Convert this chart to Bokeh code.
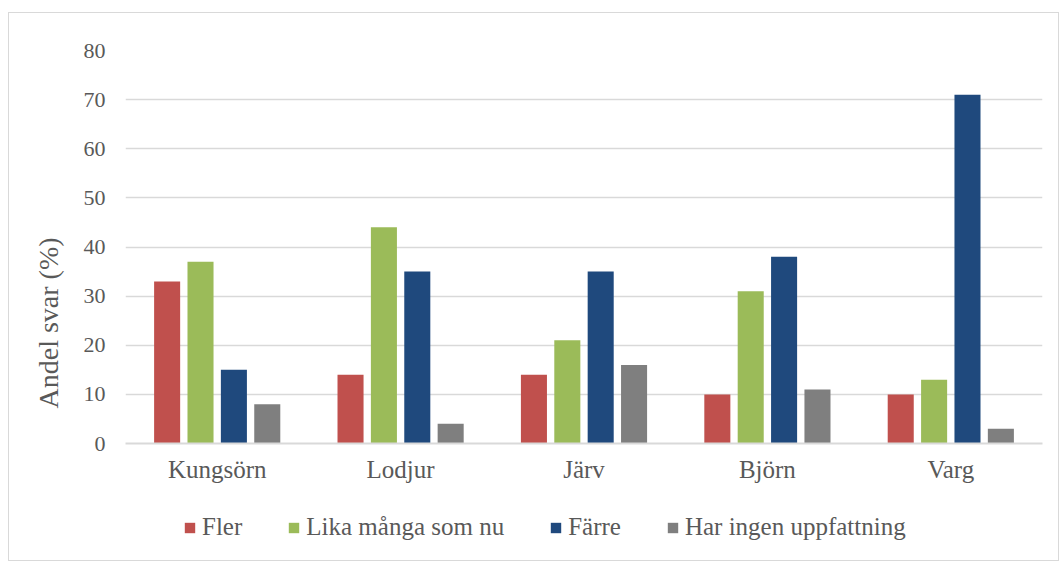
from bokeh.plotting import figure
from bokeh.models import Legend, LegendItem, FactorRange, ColumnDataSource, Title
from bokeh.layouts import column
from bokeh.transform import dodge
from bokeh.embed import file_html
from bokeh.resources import INLINE

categories = ["Kungsörn", "Lodjur", "Järv", "Björn", "Varg"]
series_names = ["Fler", "Lika många som nu", "Färre", "Har ingen uppfattning"]
fler = [33, 14, 14, 10, 10]
lika = [37, 44, 21, 31, 13]
farre = [15, 35, 35, 38, 71]
ingen = [8, 4, 16, 11, 3]
y_ticks = [0, 10, 20, 30, 40, 50, 60, 70, 80]

colors = ["#C0504D", "#9BBB59", "#1F497D", "#7F7F7F"]
FONT = "Liberation Serif"
TXT = "#595959"

src = ColumnDataSource(dict(cat=categories, fler=fler, lika=lika, farre=farre, ingen=ingen))

p = figure(x_range=FactorRange(*categories), y_range=(0, 80),
           width=1049, height=487, output_backend="svg", toolbar_location=None,
           min_border_left=116, min_border_right=16, min_border_top=37, min_border_bottom=57)

step = 0.182
bw = 0.142
offs = [-1.5 * step, -0.5 * step, 0.5 * step, 1.5 * step]
keys = ["fler", "lika", "farre", "ingen"]
for k, off, c in zip(keys, offs, colors):
    p.vbar(x=dodge("cat", off, range=p.x_range), top=k, width=bw, source=src,
           fill_color=c, line_color=None)

p.outline_line_color = None
p.xgrid.grid_line_color = None
p.ygrid.grid_line_color = "#D9D9D9"
p.ygrid.grid_line_width = 1.3
p.yaxis.ticker = y_ticks
p.yaxis.axis_line_color = None
p.yaxis.major_tick_line_color = None
p.yaxis.minor_tick_line_color = None
p.yaxis.major_tick_out = 0
p.yaxis.major_tick_in = 0
p.yaxis.major_label_standoff = 20
p.yaxis.major_label_text_font = FONT
p.yaxis.major_label_text_font_size = "22px"
p.yaxis.major_label_text_color = TXT

ylab = Title(text="Andel svar (%)", align="left", offset=35, standoff=33,
             text_font=FONT, text_font_size="28px", text_font_style="normal",
             text_color=TXT)
p.add_layout(ylab, "left")

p.xaxis.axis_line_color = "#D9D9D9"
p.xaxis.axis_line_width = 2
p.xaxis.major_tick_line_color = None
p.xaxis.minor_tick_line_color = None
p.xaxis.major_tick_out = 0
p.xaxis.major_tick_in = 0
p.xaxis.major_label_standoff = 12
p.xaxis.major_label_text_font = FONT
p.xaxis.major_label_text_font_size = "25px"
p.xaxis.major_label_text_color = TXT

# legend strip
lg = figure(width=1049, height=60, output_backend="svg", toolbar_location=None,
            x_range=(0, 1), y_range=(0, 1), min_border=0)
lg.axis.visible = False
lg.grid.grid_line_color = None
lg.outline_line_color = None
rs = []
for c in colors:
    rs.append(lg.vbar(x=[float("nan")], top=[float("nan")], width=0.1,
                      fill_color=c, line_color=None))
legend = Legend(items=[LegendItem(label=n, renderers=[r]) for n, r in zip(series_names, rs)],
                orientation="horizontal", location=(58, 19),
                label_text_font=FONT, label_text_font_size="25px", label_text_color=TXT,
                glyph_width=13, glyph_height=13, label_standoff=6, spacing=45,
                border_line_color=None, background_fill_alpha=0, padding=0, margin=0)
lg.add_layout(legend, "center")

layout = column(p, lg, spacing=0,
                styles={"border": "1px solid #D9D9D9", "margin-left": "8px", "margin-top": "12px"})

open("out.html", "w").write(file_html(layout, INLINE))
